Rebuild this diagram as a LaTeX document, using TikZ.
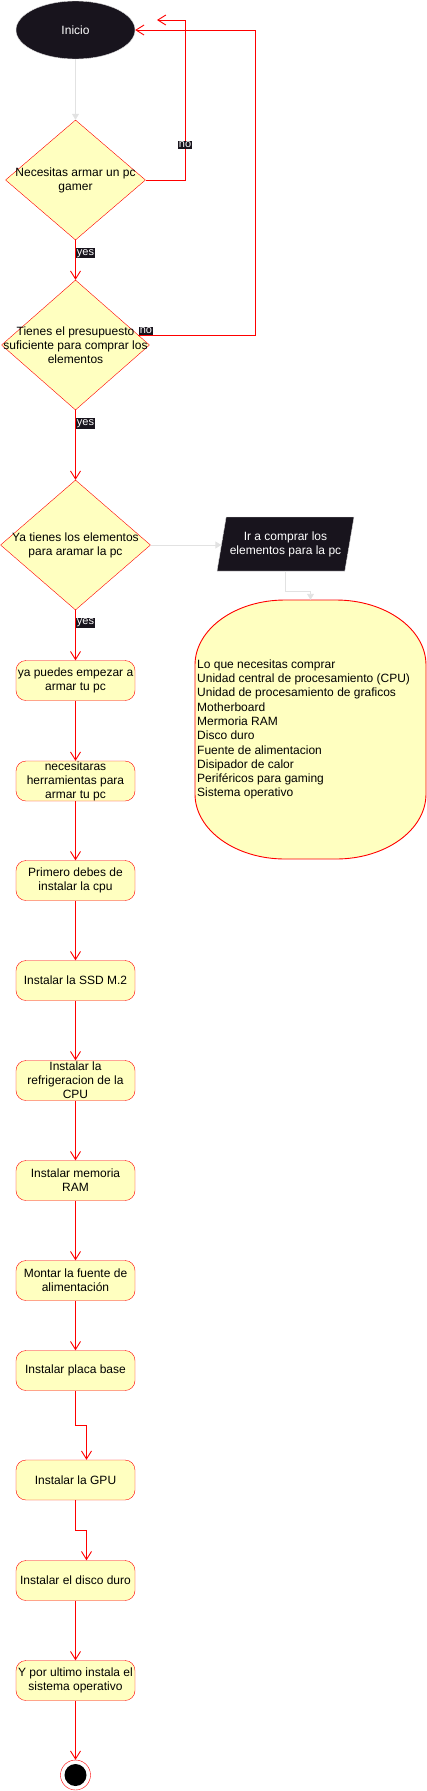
\documentclass[tikz,border=0pt]{standalone}
\usepackage{fontspec}
\setmainfont{Liberation Sans}
\usetikzlibrary{shapes.geometric,arrows.meta}
\definecolor{amarillo}{HTML}{FFFFC0}
\definecolor{rojo}{HTML}{FF0000}
\definecolor{oscuro}{HTML}{18141D}
\definecolor{gris}{HTML}{E2E2E2}
\tikzset{
  texto/.style={font=\fontsize{12}{14}\selectfont, align=center},
  inicio/.style={ellipse, fill=oscuro, draw=gris, minimum width=119pt, minimum height=58pt, inner sep=0pt, text=white, texto},
  decision/.style={diamond, fill=amarillo, draw=rojo, inner sep=0pt},
  accion/.style={rectangle, rounded corners=10pt, fill=amarillo, draw=rojo, minimum width=119pt, minimum height=40pt, inner sep=0pt, texto},
  entrada/.style={trapezium, trapezium left angle=70, trapezium right angle=110, trapezium stretches body, fill=oscuro, draw=gris, minimum width=137pt, minimum height=54pt, inner sep=0pt, text=white, texto},
  fin/.style={circle, draw=rojo, fill=white, minimum size=30pt, inner sep=0pt},
  flecha/.style={draw=rojo, line width=0.9pt, -{Straight Barb[length=8pt,width=10pt]}},
  flechagris/.style={draw=gris, line width=0.9pt, -{Triangle[length=6pt,width=7pt]}},
  etiqueta/.style={fill=oscuro, text=white, font=\fontsize{11}{12}\selectfont, inner sep=1pt}
}
\begin{document}
\begin{tikzpicture}[x=1pt,y=-1pt]
\useasboundingbox (0,0) rectangle (426,1791);
\node[inicio] (ini) at (75.5,30) {Inicio};
\node[decision, minimum width=140pt, minimum height=120pt] (d1) at (75.5,180) {};
\node[texto] (d1t) at (d1) {Necesitas armar un pc\\gamer};
\node[decision, minimum width=148pt, minimum height=130pt] (d2) at (75.5,345) {};
\node[texto] (d2t) at (d2) {Tienes el presupuesto\\suficiente para comprar los\\elementos};
\node[decision, minimum width=150pt, minimum height=130pt] (d3) at (75.5,545) {};
\node[texto] (d3t) at (d3) {Ya tienes los elementos\\para aramar la pc};
\node[entrada] (ir) at (285.5,544) {Ir a comprar los\\elementos para la pc};
% caja de la lista, esquinas elipticas
\draw[rojo, fill=amarillo, line width=0.9pt] (285,600) -- (336,600)
  arc[start angle=90, end angle=0, x radius=90pt, y radius=65pt] -- (426,794)
  arc[start angle=0, end angle=-90, x radius=90pt, y radius=65pt] -- (285,859)
  arc[start angle=-90, end angle=-180, x radius=90pt, y radius=65pt] -- (195,665)
  arc[start angle=180, end angle=90, x radius=90pt, y radius=65pt] -- cycle;
\node[minimum width=231pt, minimum height=259pt, inner sep=0pt] (lista) at (310.5,729.5) {};
\node[anchor=west, align=left, inner sep=0pt, font=\fontsize{12}{14.3}\selectfont] (listat) at (197,729.5) {Lo que necesitas comprar\\Unidad central de procesamiento (CPU)\\Unidad de procesamiento de graficos\\Motherboard\\Mermoria RAM\\Disco duro\\Fuente de alimentacion\\Disipador de calor\\Periféricos para gaming\\Sistema operativo};
\node[accion] (a1) at (75.5,680.5) {ya puedes empezar a\\armar tu pc};
\node[accion] (a2) at (75.5,781) {necesitaras\\herramientas para\\armar tu pc};
\node[accion] (a3) at (75.5,880.5) {Primero debes de\\instalar la cpu};
\node[accion] (a4) at (75.5,980.5) {Instalar la SSD M.2};
\node[accion] (a5) at (75.5,1080.5) {Instalar la\\refrigeracion de la\\CPU};
\node[accion] (a6) at (75.5,1180.5) {Instalar memoria\\RAM};
\node[accion] (a7) at (75.5,1280.5) {Montar la fuente de\\alimentación};
\node[accion] (a8) at (75.5,1370.5) {Instalar placa base};
\node[accion] (a9) at (75.5,1480) {Instalar la GPU};
\node[accion] (a10) at (75.5,1580.5) {Instalar el disco duro};
\node[accion] (a11) at (75.5,1680.5) {Y por ultimo instala el\\sistema operativo};
\node[fin] (fin) at (75.5,1775) {};
\fill[black] (fin.center) circle (11pt);
\coordinate (r1) at (185,20);
\coordinate (finno) at (157,20);
\coordinate (r2) at (255,30);
\draw[flechagris] (ini) -- (d1);
\draw[flecha] (d1) -- node[etiqueta, pos=0.33, anchor=west] {yes} (d2);
\draw[flecha] (d1.east) -| node[etiqueta, pos=0.61] {no} (r1) -- (finno);
\draw[flecha] (d2.9) -| node[etiqueta, pos=0, anchor=south west] {no} (r2) -- (ini.east);
\draw[flecha] (d2) -- node[etiqueta, pos=0.19, anchor=west] {yes} (d3);
\draw[flechagris] (d3.east) -- (d3.east -| ir.west);
\draw[flechagris] (ir.south) -- ++(0,20) -| (lista.north);
\draw[flecha] (d3) -- node[etiqueta, pos=0.25, anchor=west] {yes} (a1);
\draw[flecha] (a1) -- (a2);
\draw[flecha] (a2) -- (a3);
\draw[flecha] (a3) -- (a4);
\draw[flecha] (a4) -- (a5);
\draw[flecha] (a5) -- (a6);
\draw[flecha] (a6) -- (a7);
\draw[flecha] (a7) -- (a8);
\draw[flecha] (a8.south) -- ++(0,35) -| ([xshift=11pt]a9.north);
\draw[flecha] (a9.south) -- ++(0,30) -| ([xshift=11pt]a10.north);
\draw[flecha] (a10) -- (a11);
\draw[flecha] (a11) -- (fin);
\end{tikzpicture}
\end{document}
